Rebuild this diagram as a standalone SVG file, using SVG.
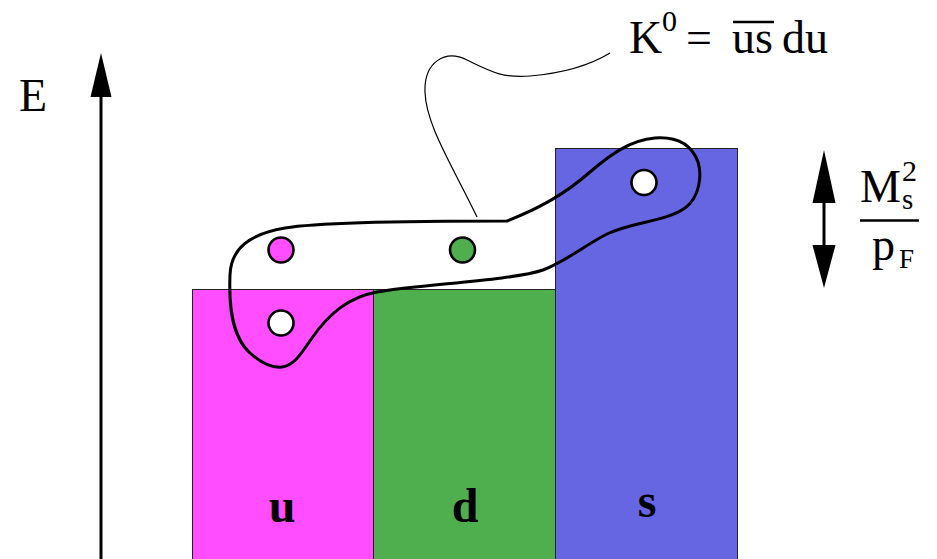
<svg xmlns="http://www.w3.org/2000/svg" width="937" height="559" viewBox="0 0 937 559">
<style>
.t{font-family:"Liberation Serif","Times New Roman",serif;fill:#000}
.b{font-family:"Liberation Serif","Times New Roman",serif;font-weight:bold;font-size:48px;text-anchor:middle;fill:#000}
.box{stroke:#222;stroke-width:1}
.dot{stroke:#000;stroke-width:2.6}
</style>
<defs>
<marker id="ah" viewBox="0 0 22 44" refX="0" refY="22" markerWidth="22" markerHeight="44" markerUnits="userSpaceOnUse" orient="auto">
<path d="M0,0 L44,22 L0,44 Z" fill="#000"/>
</marker>
</defs>
<rect width="937" height="559" fill="#fff"/>
<g id="band-u"><rect class="box" x="192.5" y="289.5" width="181" height="280" fill="#ff4dff"/><text class="b" x="282" y="522">u</text></g>
<g id="band-d"><rect class="box" x="373.5" y="289.5" width="182" height="280" fill="#4faf4f"/><text class="b" x="465" y="522">d</text></g>
<g id="band-s"><rect class="box" x="555.5" y="148.5" width="182" height="421" fill="#6666e2"/><text class="b" x="647" y="517">s</text></g>
<g id="axis">
<line x1="101" y1="559" x2="101" y2="96" stroke="#000" stroke-width="3"/>
<path d="M90.5,97 L101,53 L111.5,97 Z" fill="#000"/>
<text class="t" x="19" y="111" font-size="46">E</text>
</g>
<g id="connectors">
<path d="M477,217 C452,165 426,125 425,92 C424,62 445,49 467,60 C492,72 502,78 530,76 C565,73 592,64 610,53" fill="none" stroke="#000" stroke-width="1.2"/>
<path d="M507,221 C440,221 320,222 285,228 C250,234 231,248 230,275 C229,300 230,335 250,353 C262,364 272,368 282,367 C295,365 302,352 312,338 C330,312 350,297 377,292 C420,284 510,281 543,270 C565,262 585,245 607,234 C635,221 665,222 685,208 C700,197 702,175 698,162 C690,140 670,137 655,138 C630,140 610,155 590,172 C565,194 540,208 507,221 Z" fill="none" stroke="#000" stroke-width="3"/>
</g>
<g id="quark-u-top"><circle class="dot" cx="281" cy="250" r="12.5" fill="#ff4dff"/></g>
<g id="quark-d"><circle class="dot" cx="462.5" cy="250" r="12.5" fill="#4faf4f"/></g>
<g id="hole-u"><circle class="dot" cx="281" cy="323" r="12.5" fill="#fff"/></g>
<g id="hole-s"><circle class="dot" cx="644" cy="182.5" r="12.5" fill="#fff"/></g>
<g id="k0-label">
<text class="t" x="629" y="53" font-size="46">K</text>
<text class="t" x="662" y="31" font-size="30">0</text>
<text class="t" x="686" y="53" font-size="46">=</text>
<text class="t" x="732" y="53" font-size="46">us</text>
<line x1="733" y1="22" x2="774" y2="22" stroke="#000" stroke-width="2.5"/>
<text class="t" x="782" y="53" font-size="46">du</text>
</g>
<g id="gap">
<line x1="824" y1="195" x2="824" y2="250" stroke="#000" stroke-width="3"/>
<path d="M812.5,203 L824,150 L835.5,203 Z" fill="#000"/>
<path d="M812.5,245 L824,288 L835.5,245 Z" fill="#000"/>
<text class="t" x="860" y="201.5" font-size="46">M</text>
<text class="t" x="902" y="209" font-size="29">s</text>
<text class="t" x="902" y="181" font-size="30">2</text>
<line x1="860" y1="220.5" x2="919" y2="220.5" stroke="#000" stroke-width="2.5"/>
<text class="t" x="872" y="260" font-size="46">p</text>
<text class="t" x="899" y="268" font-size="27">F</text>
</g>
</svg>
